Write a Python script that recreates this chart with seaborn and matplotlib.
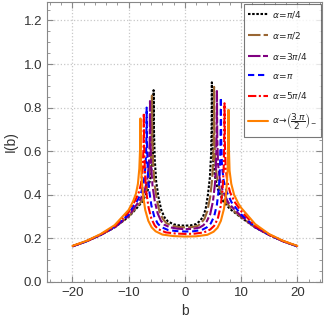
import numpy as np
import pandas as pd
import matplotlib
matplotlib.use("Agg")
import matplotlib.pyplot as plt
import seaborn as sns
from matplotlib.ticker import MultipleLocator

# values
labels = [r"$\alpha\!=\!\pi/4$", r"$\alpha\!=\!\pi/2$", r"$\alpha\!=\!3\pi/4$",
          r"$\alpha\!=\!\pi$", r"$\alpha\!=\!5\pi/4$",
          r"$\alpha\!\to\!\left(\dfrac{3\,\pi}{2}\right)_{\!-}$"]

b_black = [-20, -17.5, -15, -12.5, -10, -8.5, -7.5, -6.6, -6.1, -5.75, -5.61, -5.56,
           -5.5, -5.35, -5.1, -4.7, -4.2, -3.6, -3.0, -2.0, -1.0, 0.0,
           1.0, 2.0, 2.6, 3.2, 3.7, 4.1, 4.45, 4.65, 4.75, 4.80,
           4.86, 5.0, 5.3, 5.8, 6.8, 8.0, 10, 12.5, 15, 17.5, 20]
i_black = [0.163, 0.186, 0.215, 0.25, 0.298, 0.34, 0.37, 0.42, 0.48, 0.56, 0.66, 0.88,
           0.70, 0.56, 0.46, 0.39, 0.33, 0.295, 0.277, 0.264, 0.259, 0.258,
           0.259, 0.265, 0.278, 0.297, 0.335, 0.40, 0.48, 0.58, 0.71, 0.916,
           0.68, 0.56, 0.49, 0.43, 0.37, 0.335, 0.295, 0.25, 0.215, 0.186, 0.163]

b_brown = [-20, -17.5, -15, -12.5, -10, -8.5, -7.7, -6.9, -6.4, -6.05, -5.91, -5.86,
           -5.8, -5.65, -5.4, -5.0, -4.5, -3.9, -3.3, -2.3, -1.2, 0.0,
           1.2, 2.3, 2.9, 3.5, 4.0, 4.5, 4.85, 5.05, 5.15, 5.2,
           5.26, 5.4, 5.7, 6.2, 7.2, 8.3, 10, 12.5, 15, 17.5, 20]
i_brown = [0.163, 0.186, 0.215, 0.25, 0.3, 0.345, 0.37, 0.415, 0.47, 0.55, 0.65, 0.855,
           0.68, 0.545, 0.45, 0.38, 0.32, 0.288, 0.27, 0.257, 0.252, 0.250,
           0.251, 0.257, 0.27, 0.29, 0.325, 0.39, 0.47, 0.57, 0.70, 0.895,
           0.67, 0.55, 0.48, 0.425, 0.37, 0.335, 0.297, 0.25, 0.215, 0.186, 0.163]

b_purple = [-20, -17.5, -15, -12.5, -10, -8.7, -8.0, -7.2, -6.7, -6.4, -6.25, -6.2,
            -6.14, -6.0, -5.75, -5.35, -4.85, -4.25, -3.65, -2.6, -1.3, 0.0,
            1.3, 2.6, 3.3, 3.9, 4.5, 5.0, 5.35, 5.55, 5.65, 5.7,
            5.76, 5.9, 6.2, 6.7, 7.7, 8.7, 10, 12.5, 15, 17.5, 20]
i_purple = [0.163, 0.186, 0.215, 0.25, 0.302, 0.35, 0.375, 0.415, 0.465, 0.54, 0.64, 0.83,
            0.66, 0.53, 0.44, 0.37, 0.315, 0.28, 0.262, 0.25, 0.244, 0.242,
            0.243, 0.249, 0.26, 0.278, 0.31, 0.37, 0.45, 0.55, 0.68, 0.876,
            0.66, 0.54, 0.475, 0.42, 0.365, 0.335, 0.302, 0.25, 0.215, 0.186, 0.163]

b_blue = [-20, -17.5, -15, -12.5, -10, -9.0, -8.4, -7.7, -7.3, -7.0, -6.85, -6.8,
          -6.74, -6.6, -6.35, -5.95, -5.45, -4.85, -4.25, -3.0, -1.5, 0.0,
          1.5, 3.0, 3.9, 4.6, 5.2, 5.7, 6.05, 6.25, 6.35, 6.4,
          6.46, 6.6, 6.9, 7.4, 8.3, 9.2, 10, 12.5, 15, 17.5, 20]
i_blue = [0.163, 0.186, 0.216, 0.252, 0.31, 0.355, 0.375, 0.415, 0.46, 0.53, 0.63, 0.80,
          0.64, 0.51, 0.42, 0.35, 0.30, 0.268, 0.252, 0.238, 0.233, 0.231,
          0.232, 0.238, 0.25, 0.268, 0.30, 0.355, 0.43, 0.53, 0.66, 0.847,
          0.65, 0.53, 0.465, 0.415, 0.365, 0.335, 0.31, 0.252, 0.216, 0.186, 0.163]

b_red = [-20, -17.5, -15, -12.5, -10, -9.3, -8.8, -8.2, -7.8, -7.5, -7.35, -7.3,
         -7.24, -7.1, -6.85, -6.45, -5.95, -5.35, -4.75, -3.4, -1.7, 0.0,
         1.7, 3.4, 4.5, 5.2, 5.85, 6.35, 6.7, 6.9, 7.0, 7.05,
         7.11, 7.25, 7.55, 8.05, 8.9, 10, 12.5, 15, 17.5, 20]
i_red = [0.164, 0.187, 0.217, 0.254, 0.32, 0.355, 0.375, 0.41, 0.45, 0.52, 0.62, 0.775,
         0.62, 0.50, 0.41, 0.34, 0.29, 0.258, 0.242, 0.227, 0.222, 0.22,
         0.221, 0.227, 0.24, 0.257, 0.29, 0.345, 0.42, 0.52, 0.64, 0.82,
         0.64, 0.52, 0.46, 0.41, 0.365, 0.325, 0.256, 0.217, 0.187, 0.164]

b_orange = [-20, -17.5, -15, -12.5, -10, -9.6, -9.2, -8.7, -8.35, -8.1, -7.95, -7.9,
            -7.84, -7.7, -7.45, -7.05, -6.5, -5.9, -5.2, -4.0, -2.0, 0.0,
            2.0, 4.0, 5.1, 5.8, 6.4, 6.95, 7.35, 7.6, 7.71, 7.76,
            7.82, 7.95, 8.25, 8.75, 9.5, 10, 12.5, 15, 17.5, 20]
i_orange = [0.165, 0.188, 0.219, 0.26, 0.33, 0.35, 0.37, 0.405, 0.45, 0.52, 0.62, 0.75,
            0.60, 0.48, 0.40, 0.33, 0.28, 0.25, 0.232, 0.217, 0.21, 0.208,
            0.209, 0.216, 0.23, 0.248, 0.28, 0.335, 0.41, 0.51, 0.63, 0.79,
            0.62, 0.51, 0.45, 0.40, 0.36, 0.34, 0.265, 0.219, 0.188, 0.165]

series_b = [b_black, b_brown, b_purple, b_blue, b_red, b_orange]
series_i = [i_black, i_brown, i_purple, i_blue, i_red, i_orange]
colors = ["#000000", "#996633", "#800080", "#0000ff", "#ff0000", "#ff8000"]
dashes = [(1.2, 0.8), (6, 1.5), (6, 1.2, 2.5, 1.2), (3, 1.8), (4, 1.2, 1, 1.2), None]

sns.set_style("ticks")
plt.rcParams["font.family"] = ["Liberation Sans", "DejaVu Sans"]
plt.rcParams["mathtext.fontset"] = "dejavusans"

fig = plt.figure(figsize=(3.27, 3.21), dpi=100)
ax = fig.add_axes([0.144, 0.122, 0.841, 0.872])

for k in range(6):
    df = pd.DataFrame({"b": series_b[k], "I": series_i[k]})
    sns.lineplot(data=df, x="b", y="I", sort=False, estimator=None, ax=ax,
                 color=colors[k], lw=1.5, label=labels[k])
    line = ax.lines[-1]
    if dashes[k] is not None:
        line.set_dashes(dashes[k])

ax.set_xlim(-24.5, 24.4)
ax.set_ylim(0, 1.285)
ax.xaxis.set_major_locator(MultipleLocator(10))
ax.xaxis.set_minor_locator(MultipleLocator(2))
ax.yaxis.set_major_locator(MultipleLocator(0.2))
ax.yaxis.set_minor_locator(MultipleLocator(0.05))
ax.yaxis.set_major_formatter(matplotlib.ticker.FormatStrFormatter("%.1f"))
ax.grid(True, which="major", ls=":", color="#c8c8c8", lw=0.9)
ax.tick_params(which="both", direction="in", top=True, right=True,
               color="#888888", labelsize=9.5, labelcolor="#333333")
ax.tick_params(which="major", length=4)
ax.tick_params(which="minor", length=2)
for s in ax.spines.values():
    s.set_color("#888888")
    s.set_linewidth(0.8)

ax.set_xlabel("b", fontsize=10, color="#333333", labelpad=4)
ax.set_ylabel("I(b)", fontsize=10, color="#333333", labelpad=4)

leg = ax.legend(loc="upper right", bbox_to_anchor=(1.0, 0.995), fontsize=6.5,
                frameon=True, fancybox=False, handlelength=2.2, labelspacing=1.1,
                borderpad=0.5, handletextpad=0.4, borderaxespad=0.1)
leg.get_frame().set_edgecolor("#555555")
leg.get_frame().set_linewidth(0.8)

fig.savefig("out.png", dpi=100)
